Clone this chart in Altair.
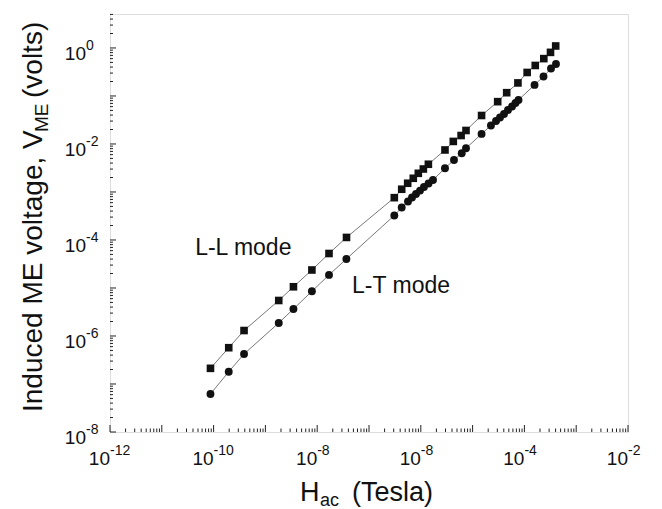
import altair as alt
import pandas as pd

# ---------------- data ----------------
ll_x = [8.7e-11, 1.96e-10, 3.87e-10, 1.81e-9, 3.48e-9, 7.9e-9, 1.69e-8, 3.68e-8,
        3.08e-7, 4.28e-7, 5.58e-7, 7.16e-7, 8.95e-7, 1.12e-6, 1.40e-6, 2.93e-6,
        4.24e-6, 6.0e-6, 7.46e-6, 1.49e-5, 3.05e-5, 4.55e-5, 7.5e-5, 1.13e-4,
        1.62e-4, 2.37e-4, 3.19e-4, 4.02e-4]
ll_y = [2.12e-7, 5.70e-7, 1.30e-6, 5.49e-6, 1.06e-5, 2.37e-5, 5.23e-5, 1.13e-4,
        7.61e-4, 1.14e-3, 1.52e-3, 1.93e-3, 2.45e-3, 3.01e-3, 3.78e-3, 7.50e-3,
        1.13e-2, 1.50e-2, 1.91e-2, 3.92e-2, 7.61e-2, 0.117, 0.187, 0.309,
        0.432, 0.60, 0.81, 1.10]
lt_x = [8.7e-11, 1.96e-10, 3.87e-10, 1.81e-9, 3.48e-9, 7.9e-9, 1.69e-8, 3.66e-8,
        3.08e-7, 4.28e-7, 5.66e-7, 6.76e-7, 8.07e-7, 9.66e-7, 1.15e-6, 1.41e-6,
        1.72e-6, 2.93e-6, 4.37e-6, 6.17e-6, 7.46e-6, 1.49e-5, 2.26e-5, 2.83e-5,
        3.38e-5, 4.04e-5, 4.82e-5, 5.77e-5, 6.73e-5, 7.69e-5, 1.57e-4, 2.34e-4,
        3.26e-4, 4.07e-4]
lt_y = [6.19e-8, 1.80e-7, 4.22e-7, 1.87e-6, 3.65e-6, 8.53e-6, 1.87e-5, 4.02e-5,
        3.24e-4, 4.75e-4, 6.34e-4, 7.68e-4, 9.08e-4, 1.07e-3, 1.27e-3, 1.50e-3,
        1.78e-3, 3.12e-3, 4.64e-3, 6.40e-3, 8.13e-3, 1.62e-2, 2.43e-2, 3.01e-2,
        3.56e-2, 4.22e-2, 5.11e-2, 6.04e-2, 7.15e-2, 8.25e-2, 0.170, 0.255,
        0.374, 0.464]

# tick labels (as printed in the figure)
x_label_pos = [1e-12, 1e-10, 1e-8, 1e-6, 1e-4, 1e-2]
x_label_exp = ["-12", "-10", "-8", "-8", "-4", "-2"]
y_label_pos = [1e0, 1e-2, 1e-4, 1e-6, 1e-8]
y_label_exp = ["0", "-2", "-4", "-6", "-8"]

x_decades = [1e-12, 1e-11, 1e-10, 1e-9, 1e-8, 1e-7, 1e-6, 1e-5, 1e-4, 1e-3, 1e-2]
y_decades = [1e-8, 1e-7, 1e-6, 1e-5, 1e-4, 1e-3, 1e-2, 1e-1, 1e0]
minor_mult = [2, 3, 4, 5, 6, 7, 8, 9]

annot_text = ["L-L mode", "L-T mode"]
annot_x = [4.4e-11, 4.7e-8]
annot_y = [4.9e-5, 7.9e-6]

# ---------------- helpers ----------------
W, H = 518, 418
FONT = "Liberation Sans"
xs = alt.Scale(type="log", domain=[1e-12, 1e-2], nice=False)
ys = alt.Scale(type="log", domain=[1e-8, 5.1], nice=False)

x_minor = [m * d for d in x_decades[:-1] for m in minor_mult]
y_minor = [m * d for d in y_decades[:-1] for m in minor_mult] + [2.0, 3.0, 4.0, 5.0]

ll = pd.DataFrame({"x": ll_x, "y": ll_y})
lt = pd.DataFrame({"x": lt_x, "y": lt_y})

def series(df, shape):
    line = alt.Chart(df).mark_line(color="#555555", strokeWidth=0.8).encode(
        x=alt.X("x:Q", scale=xs, axis=None), y=alt.Y("y:Q", scale=ys, axis=None))
    if shape == "square":
        pts = alt.Chart(df).mark_point(shape="square", filled=True, size=58,
                                       color="#111111", opacity=1).encode(
            x=alt.X("x:Q", scale=xs, axis=None), y=alt.Y("y:Q", scale=ys, axis=None))
    else:
        pts = alt.Chart(df).mark_circle(size=62, color="#111111", opacity=1).encode(
            x=alt.X("x:Q", scale=xs, axis=None), y=alt.Y("y:Q", scale=ys, axis=None))
    return [line, pts]

def xticks(vals, length):
    return alt.Chart(pd.DataFrame({"v": vals})).mark_rule(color="#222222", strokeWidth=1).encode(
        x=alt.X("v:Q", scale=xs, axis=None), y=alt.value(H), y2=alt.value(H - length))

def yticks(vals, length):
    return alt.Chart(pd.DataFrame({"v": vals})).mark_rule(color="#222222", strokeWidth=1).encode(
        y=alt.Y("v:Q", scale=ys, axis=None), x=alt.value(0), x2=alt.value(length))

xlab = pd.DataFrame({"v": x_label_pos, "e": x_label_exp})
ylab = pd.DataFrame({"v": y_label_pos, "e": y_label_exp})

x_ten = alt.Chart(xlab).mark_text(font=FONT, fontSize=19, align="right",
                                  baseline="alphabetic", color="#111111").encode(
    x=alt.X("v:Q", scale=xs, axis=None), y=alt.value(H + 33), text=alt.value("10"))
x_exp = alt.Chart(xlab).mark_text(font=FONT, fontSize=14, align="left",
                                  baseline="alphabetic", color="#111111").encode(
    x=alt.X("v:Q", scale=xs, axis=None), y=alt.value(H + 23), text="e:N")
y_ten = alt.Chart(ylab).mark_text(font=FONT, fontSize=19, align="right",
                                  baseline="alphabetic", dy=12, color="#111111").encode(
    y=alt.Y("v:Q", scale=ys, axis=None), x=alt.value(-24), text=alt.value("10"))
y_exp = alt.Chart(ylab).mark_text(font=FONT, fontSize=14, align="left",
                                  baseline="alphabetic", dy=2, color="#111111").encode(
    y=alt.Y("v:Q", scale=ys, axis=None), x=alt.value(-24), text="e:N")

annot = alt.Chart(pd.DataFrame({"x": annot_x, "y": annot_y, "t": annot_text})).mark_text(
    font=FONT, fontSize=23, align="left", baseline="alphabetic", color="#111111").encode(
    x=alt.X("x:Q", scale=xs, axis=None), y=alt.Y("y:Q", scale=ys, axis=None), text="t:N")

one = pd.DataFrame({"k": [0]})

def label(txt, x, y, size, angle=0):
    return alt.Chart(one).mark_text(font=FONT, fontSize=size, align="left",
                                    baseline="alphabetic", angle=angle,
                                    color="#111111").encode(
        x=alt.value(x), y=alt.value(y), text=alt.value(txt))

titles = [
    label("H", 190, H + 69, 27),
    label("ac", 210, H + 74, 18),
    label("(Tesla)", 242, H + 69, 27),
    label("Induced ME voltage, V", -68, 398, 28, angle=270),
    label("ME", -62, 118, 19, angle=270),
    label("(volts)", -68, 84, 28, angle=270),
]

layers = (series(ll, "square") + series(lt, "circle") +
          [xticks(x_decades, 7), xticks(x_minor, 3.5),
           yticks(y_decades, 6), yticks(y_minor, 3),
           x_ten, x_exp, y_ten, y_exp, annot] + titles)

chart = alt.layer(*layers).properties(
    width=W, height=H,
    autosize=alt.AutoSizeParams(type="none"),
    padding={"left": 102, "top": 6, "right": 26, "bottom": 77},
).configure_view(stroke="#444444", strokeWidth=1.2).configure(background="white")

chart.save("out.html", embed_options={"renderer": "svg", "actions": False})
